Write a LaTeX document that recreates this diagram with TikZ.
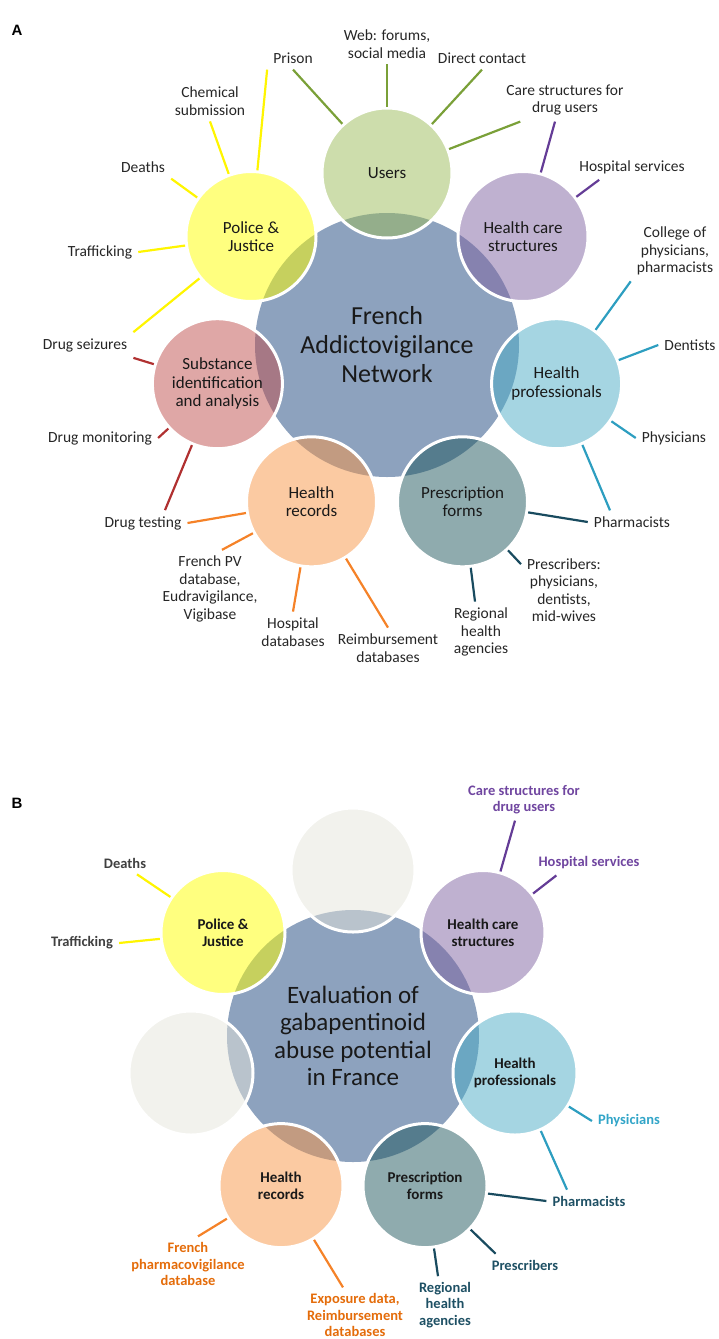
\documentclass[tikz,border=0pt]{standalone}
\usepackage{fontspec}
\setmainfont{Carlito}
\newfontfamily\headfont{Liberation Sans}

\definecolor{hubcol}{RGB}{141,162,190}
\definecolor{usrcol}{RGB}{155,187,89}
\definecolor{hcscol}{RGB}{128,100,162}
\definecolor{hprcol}{RGB}{75,172,198}
\definecolor{prfcol}{RGB}{31,87,93}
\definecolor{hrccol}{RGB}{247,150,70}
\definecolor{subcol}{RGB}{192,80,77}
\definecolor{polcol}{RGB}{255,255,0}
\definecolor{empcol}{RGB}{229,229,219}
\definecolor{usrln}{RGB}{122,160,56}
\definecolor{hcsln}{RGB}{100,60,150}
\definecolor{hprln}{RGB}{45,158,192}
\definecolor{prfln}{RGB}{25,75,95}
\definecolor{hrcln}{RGB}{245,130,40}
\definecolor{subln}{RGB}{176,48,48}
\definecolor{polln}{RGB}{255,245,0}
\definecolor{greytxt}{RGB}{64,64,64}
\definecolor{hcstxt}{RGB}{112,70,160}
\definecolor{hprtxt}{RGB}{50,165,200}
\definecolor{prftxt}{RGB}{30,80,100}
\definecolor{hrctxt}{RGB}{228,108,10}

\begin{document}
\begin{tikzpicture}[x=1pt,y=-1pt]
\tikzstyle{hub} = [circle, fill=hubcol, inner sep=0pt, align=center, text=black!90]
\tikzstyle{bub} = [circle, draw=white, line width=3pt, fill opacity=.5, text opacity=1, minimum size=130pt, inner sep=0pt, align=center, text=black!90, font=\fontsize{17}{18.5}\selectfont]
\tikzstyle{bubb} = [bub, minimum size=124pt, font=\bfseries\fontsize{15}{17}\selectfont]
\tikzstyle{lbl} = [inner sep=6pt, align=center, text=black!85, font=\fontsize{15.5}{17.5}\selectfont]
\tikzstyle{lblb} = [lbl, font=\bfseries\fontsize{14.5}{16.3}\selectfont]
\tikzstyle{ln} = [line width=2.2pt]

\useasboundingbox (0,0) rectangle (719,1339);

\node[font=\headfont\bfseries\fontsize{15}{18}\selectfont] (tA) at (17,30) {A};
\node[font=\headfont\bfseries\fontsize{15}{18}\selectfont] (tB) at (17,803) {B};

\node[hub, minimum size=264pt, font=\fontsize{26}{29}\selectfont] (a0) at (387,345) {French\\Addictovigilance\\Network};
\node[bub, fill=usrcol] (a1) at (387,173) {Users};
\node[bub, fill=hcscol] (a2) at (523,236.5) {Health care\\structures};
\node[bub, fill=hprcol] (a3) at (556.6,383.7) {Health\\professionals};
\node[bub, fill=prfcol] (a4) at (462.5,501.8) {Prescription\\forms};
\node[bub, fill=hrccol] (a5) at (311.5,501.8) {Health\\records};
\node[bub, fill=subcol] (a6) at (217.4,383.7) {Substance\\identification\\and analysis};
\node[bub, fill=polcol] (a7) at (251,236.5) {Police \&\\Justice};

\node[lbl] (p1) at (293,58) {Prison};
\node[lbl] (p2) at (210,101) {Chemical\\submission};
\node[lbl] (p3) at (143,167) {Deaths};
\node[lbl] (p4) at (100,252) {Trafficking};
\node[lbl] (p5) at (85,345) {Drug seizures};
\node[lbl] (p6) at (100,438) {Drug monitoring};
\node[lbl] (p7) at (143,523) {Drug testing};
\node[lbl] (p8) at (210,589) {French PV\\database,\\Eudravigilance,\\Vigibase};
\node[lbl] (p9) at (293,632) {Hospital\\databases};
\node[lbl] (p10) at (388,648) {Reimbursement\\databases};
\node[lbl] (p11) at (481,632) {Regional\\health\\agencies};
\node[lbl] (p12) at (564,590) {Prescribers:\\physicians,\\dentists,\\mid-wives};
\node[lbl] (p13) at (632,522) {Pharmacists};
\node[lbl] (p14) at (674,438) {Physicians};
\node[lbl] (p15) at (690,345) {Dentists};
\node[lbl] (p16) at (675,251) {College of\\physicians,\\pharmacists};
\node[lbl] (p17) at (565,100) {Care structures for\\drug users};
\node[lbl] (p18) at (632,167) {Hospital services};
\node[lbl] (p19) at (387,44) {Web: forums,\\social media};
\node[lbl] (p20) at (482,58) {Direct contact};

\draw[ln,polln] (a7) -- (p1.south west);
\draw[ln,usrln] (a1) -- (p1.south);
\draw[ln,polln] (a7) -- (p2.south);
\draw[ln,polln] (a7) -- (p3.south east);
\draw[ln,polln] (a7) -- (p4.east);
\draw[ln,polln] (a7) -- (p5.north east);
\draw[ln,subln] (a6) -- (p5.south east);
\draw[ln,subln] (a6) -- (p6.east);
\draw[ln,subln] (a6) -- ([xshift=22pt]p7.north);
\draw[ln,hrcln] (a5) -- (p7.east);
\draw[ln,hrcln] (a5) -- ([xshift=12pt]p8.north);
\draw[ln,hrcln] (a5) -- (p9.north);
\draw[ln,hrcln] (a5) -- (p10.north);
\draw[ln,prfln] (a4) -- ([xshift=-6pt]p11.north);
\draw[ln,prfln] (a4) -- ([yshift=-12pt]p12.north west);
\draw[ln,prfln] (a4) -- (p13.west);
\draw[ln,hprln] (a3) -- ([xshift=-22pt]p13.north);
\draw[ln,hprln] (a3) -- (p14.west);
\draw[ln,hprln] (a3) -- (p15.west);
\draw[ln,hprln] (a3) -- (p16.south west);
\draw[ln,hcsln] (a2) -- ([xshift=-10pt]p17.south);
\draw[ln,usrln] (a1) -- ([xshift=20pt]p17.south west);
\draw[ln,hcsln] (a2) -- ([xshift=26pt]p18.south west);
\draw[ln,usrln] (a1) -- (p19.south);
\draw[ln,usrln] (a1) -- (p20.south);

\node[hub, minimum size=252pt, font=\fontsize{25}{27.5}\selectfont] (b0) at (353,1036) {Evaluation of\\gabapentinoid\\abuse potential\\in France};
\node[bubb, fill=empcol] (b1) at (353,870) {};
\node[bubb, fill=hcscol] (b2) at (483,932.5) {Health care\\structures};
\node[bubb, fill=hprcol] (b3) at (515,1073) {Health\\professionals};
\node[bubb, fill=prfcol] (b4) at (425,1185.6) {Prescription\\forms};
\node[bubb, fill=hrccol] (b5) at (281,1185.6) {Health\\records};
\node[bubb, fill=empcol] (b6) at (191,1073) {};
\node[bubb, fill=polcol] (b7) at (223,932.5) {Police \&\\Justice};

\node[lblb, text=greytxt] (q1) at (125,863) {Deaths};
\node[lblb, text=greytxt] (q2) at (82,943) {Trafficking};
\node[lblb, text=hcstxt] (q3) at (524,800) {Care structures for\\drug users};
\node[lblb, text=hcstxt] (q4) at (589,863) {Hospital services};
\node[lblb, text=hprtxt] (q5) at (629,1121) {Physicians};
\node[lblb, text=prftxt] (q6) at (589,1201) {Pharmacists};
\node[lblb, text=prftxt] (q7) at (525,1265) {Prescribers};
\node[lblb, text=prftxt] (q8) at (445,1305) {Regional\\health\\agencies};
\node[lblb, text=hrctxt] (q9) at (188,1264) {French\\pharmacovigilance\\database};
\node[lblb, text=hrctxt] (q10) at (355,1315) {Exposure data,\\Reimbursement\\databases};

\draw[ln,polln] (b7) -- ([xshift=12pt]q1.south);
\draw[ln,polln] (b7) -- (q2.east);
\draw[ln,hcsln] (b2) -- ([xshift=-9pt]q3.south);
\draw[ln,hcsln] (b2) -- ([xshift=24pt]q4.south west);
\draw[ln,hprln] (b3) -- (q5.west);
\draw[ln,hprln] (b3) -- ([xshift=-22pt]q6.north);
\draw[ln,prfln] (b4) -- (q6.west);
\draw[ln,prfln] (b4) -- ([xshift=10pt]q7.north west);
\draw[ln,prfln] (b4) -- ([xshift=-7pt]q8.north);
\draw[ln,hrcln] (b5) -- ([xshift=10pt]q9.north);
\draw[ln,hrcln] (b5) -- ([xshift=-12pt]q10.north);
\end{tikzpicture}
\end{document}
